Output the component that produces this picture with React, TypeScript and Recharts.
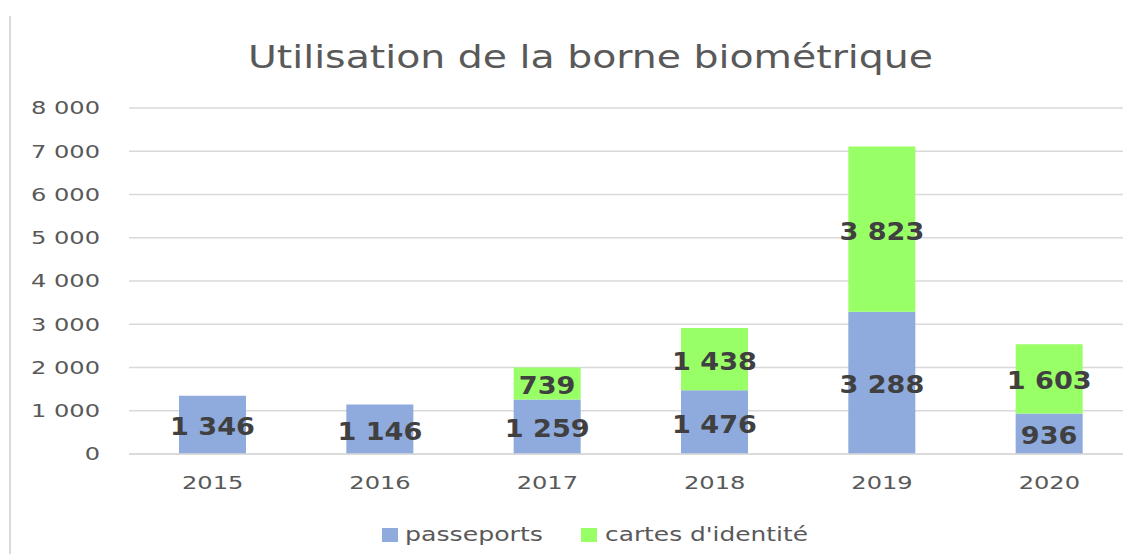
import { Bar, BarChart, CartesianGrid, LabelList, XAxis, YAxis } from "recharts";

const years = ["2015", "2016", "2017", "2018", "2019", "2020"];
const passeports = [1346, 1146, 1259, 1476, 3288, 936];
const cartes: (number | null)[] = [null, null, 739, 1438, 3823, 1603];
const yTicks = [0, 1000, 2000, 3000, 4000, 5000, 6000, 7000, 8000];

const data = years.map((year, i) => ({
  year,
  passeports: passeports[i],
  cartes: cartes[i],
}));

const fmt = (v: number) => v.toLocaleString("fr-FR").replace(/\s/g, " ");

const XTick = ({ x, y, payload }: any) => (
  <g transform={`translate(${x},${y})`}>
    <text
      transform="scale(1.34,1)"
      textAnchor="middle"
      dominantBaseline="central"
      fontSize={18}
      fill="#595959"
    >
      {payload.value}
    </text>
  </g>
);

const YTick = ({ x, y, payload }: any) => (
  <g transform={`translate(${x},${y})`}>
    <text
      transform="scale(1.34,1)"
      textAnchor="end"
      dominantBaseline="central"
      fontSize={18}
      fill="#595959"
    >
      {fmt(payload.value)}
    </text>
  </g>
);

const BarLabel = ({ x, y, width, height, value }: any) => {
  if (value === null || value === undefined) return null;
  return (
    <g transform={`translate(${x + width / 2},${y + height / 2 + 2})`}>
      <text
        transform="scale(1.13,1)"
        textAnchor="middle"
        dominantBaseline="central"
        fontSize={24}
        fontWeight="bold"
        fill="#404040"
      >
        {fmt(value)}
      </text>
    </g>
  );
};

export default function App() {
  return (
    <div
      style={{
        position: "absolute",
        left: 0,
        top: 0,
        width: 1123,
        height: 554,
        overflow: "hidden",
        background: "#fff",
        fontFamily: "DejaVu Sans",
      }}
    >
      <div
        style={{
          position: "absolute",
          left: 9,
          top: 16,
          width: 2,
          height: 540,
          background: "#d9d9d9",
        }}
      />
      <div style={{ position: "absolute", left: 0, top: 0, width: 1123 }}>
        <BarChart
          width={1123}
          height={554}
          data={data}
          margin={{ top: 108, right: -10, bottom: 70, left: 0 }}
          style={{ overflow: "visible" }}
        >
          <CartesianGrid vertical={false} stroke="#d9d9d9" strokeWidth={1.5} />
          <XAxis
            dataKey="year"
            height={30}
            axisLine={{ stroke: "#d9d9d9", strokeWidth: 1.5 }}
            tickLine={false}
            tickSize={0}
            tickMargin={29}
            tick={<XTick />}
          />
          <YAxis
            width={129}
            domain={[0, 8000]}
            ticks={yTicks}
            axisLine={false}
            tickLine={false}
            tickSize={0}
            tickMargin={29}
            tick={<YTick />}
          />
          <Bar
            dataKey="passeports"
            stackId="a"
            fill="#8faadc"
            barSize={67}
            isAnimationActive={false}
          >
            <LabelList dataKey="passeports" content={<BarLabel />} />
          </Bar>
          <Bar
            dataKey="cartes"
            stackId="a"
            fill="#99ff66"
            barSize={67}
            isAnimationActive={false}
          >
            <LabelList dataKey="cartes" content={<BarLabel />} />
          </Bar>
        </BarChart>
      </div>
      <svg
        width={1123}
        height={554}
        style={{ position: "absolute", left: 0, top: 0, pointerEvents: "none" }}
      >
        <text
          x={248}
          y={68}
          fontSize={32}
          fill="#595959"
          textLength={685}
          lengthAdjust="spacingAndGlyphs"
        >
          Utilisation de la borne biométrique
        </text>
        <rect x={382} y={528} width={16} height={14} fill="#8faadc" />
        <text
          x={405}
          y={541}
          fontSize={19}
          fill="#595959"
          textLength={138}
          lengthAdjust="spacingAndGlyphs"
        >
          passeports
        </text>
        <rect x={581} y={528} width={16} height={14} fill="#99ff66" />
        <text
          x={605}
          y={541}
          fontSize={19}
          fill="#595959"
          textLength={203}
          lengthAdjust="spacingAndGlyphs"
        >
          cartes d'identité
        </text>
      </svg>
    </div>
  );
}
